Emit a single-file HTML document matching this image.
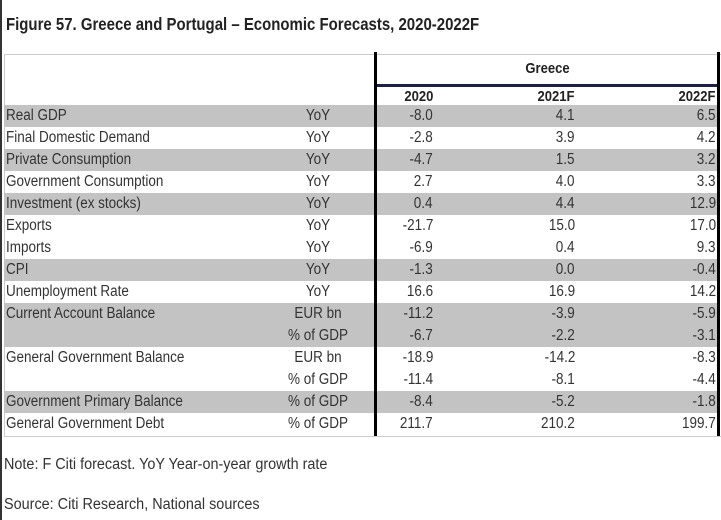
<!DOCTYPE html>
<html><head><meta charset="utf-8"><style>
body{margin:0;width:721px;height:520px;background:#fff;position:relative;overflow:hidden;font-family:"Liberation Sans Narrow","Liberation Sans",sans-serif;color:#222}
.a{position:absolute;white-space:nowrap}
.row{position:absolute;left:4px;width:715px;height:22px}
.c{position:absolute;top:2px;font-size:15.5px;line-height:17px;white-space:nowrap;color:#333}
.L{transform:scaleX(.87);transform-origin:left center}
.R{transform:scaleX(.87);transform-origin:right center}
.C{transform:scaleX(.87);transform-origin:center center}
</style></head><body>
<div class="a" style="left:0;top:0;width:2px;height:520px;background:#333"></div>
<div class="a" style="left:6px;top:14px;font-size:17.5px;font-weight:bold;color:#222;transform:scaleX(.855);transform-origin:left center">Figure 57. Greece and Portugal – Economic Forecasts, 2020-2022F</div>
<div class="a" style="left:4px;top:54px;width:716px;height:381px;border:1px solid #ccc;border-right:none"></div>
<div id="rows"></div>
<div class="a C" style="left:377px;width:341px;top:60px;text-align:center;font-size:15px;font-weight:bold">Greece</div>
<div class="a" style="left:377px;width:341px;top:84px;height:3px;background:#1b1f4a"></div>
<div class="a R" style="right:288px;top:88px;font-size:15px;font-weight:bold">2020</div>
<div class="a R" style="right:146px;top:88px;font-size:15px;font-weight:bold">2021F</div>
<div class="a R" style="right:5px;top:88px;font-size:15px;font-weight:bold">2022F</div>
<div class="a" style="left:374px;top:52px;width:3px;height:384px;background:#000"></div>
<div class="a" style="left:717px;top:52px;width:3px;height:384px;background:#000"></div>
<div class="a" style="left:4px;top:456px;font-size:15.5px;color:#333;transform:scaleX(.93);transform-origin:left center">Note: F Citi forecast. YoY Year-on-year growth rate</div>
<div class="a" style="left:4px;top:496px;font-size:15.5px;color:#333;transform:scaleX(.93);transform-origin:left center">Source: Citi Research, National sources</div>
<script>
const labels=["Real GDP","Final Domestic Demand","Private Consumption","Government Consumption","Investment (ex stocks)","Exports","Imports","CPI","Unemployment Rate","Current Account Balance","","General Government Balance","","Government Primary Balance","General Government Debt"];
const units=["YoY","YoY","YoY","YoY","YoY","YoY","YoY","YoY","YoY","EUR bn","% of GDP","EUR bn","% of GDP","% of GDP","% of GDP"];
const v2020=["-8.0","-2.8","-4.7","2.7","0.4","-21.7","-6.9","-1.3","16.6","-11.2","-6.7","-18.9","-11.4","-8.4","211.7"];
const v2021=["4.1","3.9","1.5","4.0","4.4","15.0","0.4","0.0","16.9","-3.9","-2.2","-14.2","-8.1","-5.2","210.2"];
const v2022=["6.5","4.2","3.2","3.3","12.9","17.0","9.3","-0.4","14.2","-5.9","-3.1","-8.3","-4.4","-1.8","199.7"];
const shaded=[1,0,1,0,1,0,0,1,0,1,1,0,0,1,0];
const host=document.getElementById('rows');
labels.forEach((l,i)=>{
 const r=document.createElement('div');r.className='row';
 
 
 r.style.top=(105+i*22)+'px';
 if(shaded[i])r.style.background='#c3c3c3';
 const mk=(txt,cls,css,name)=>{const d=document.createElement('div');d.className='c '+cls;d.textContent=txt;d.style.cssText+=css;
  
  
  r.appendChild(d);};
 mk(l,'L','left:2px','row-label');
 mk(units[i],'C','left:254px;width:120px;text-align:center','row-unit');
 mk(v2020[i],'R','right:286px','value-2020');
 mk(v2021[i],'R','right:144px','value-2021f');
 mk(v2022[i],'R','right:3px','value-2022f');
 host.appendChild(r);
});
</script>
</body></html>
